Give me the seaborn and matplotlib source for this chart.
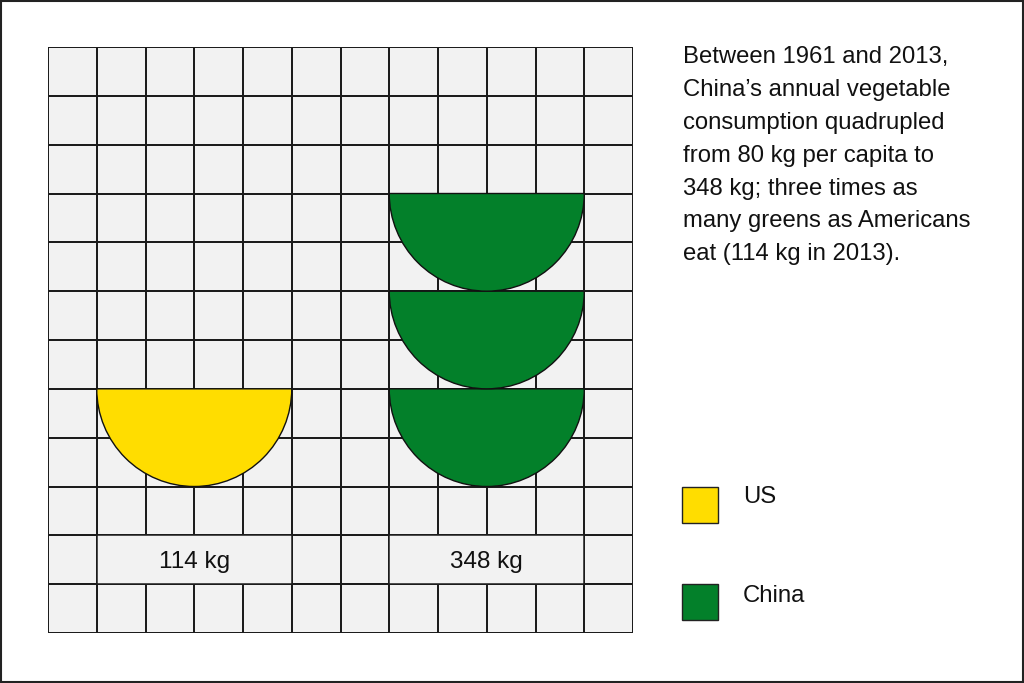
import numpy as np
import matplotlib
matplotlib.use("Agg")
import matplotlib.pyplot as plt
from matplotlib.colors import ListedColormap
from matplotlib.patches import Rectangle, Wedge
import seaborn as sns

# data
countries = ["US", "China"]
consumption_kg = [114, 348]
bowls = [1, 3]   # one bowl ~ 114 kg
bowl_colors = ["#FFDD00", "#03802A"]

note = ("Between 1961 and 2013,\n"
        "China\u2019s annual vegetable\n"
        "consumption quadrupled\n"
        "from 80 kg per capita to\n"
        "348 kg; three times as\n"
        "many greens as Americans\n"
        "eat (114 kg in 2013).")

sns.set_theme(style="white")
plt.rcParams['font.family'] = ['Liberation Sans', 'DejaVu Sans']

W, H = 1024, 683
fig = plt.figure(figsize=(W / 100, H / 100), dpi=100)
fig.patch.set_facecolor("white")

n = 12
grid_col = "#1c1c1c"
lw = 1.1
ax = fig.add_axes([48 / W, (H - 633) / H, 585 / W, 586 / H])
sns.heatmap(np.zeros((n, n)), cmap=ListedColormap(["#F2F2F2"]), cbar=False,
            linewidths=lw, linecolor=grid_col, xticklabels=False,
            yticklabels=False, ax=ax)

# bowls, stacked from row 7 upward
label_row = 10
for i, (name, kg, nb, c) in enumerate(zip(countries, consumption_kg, bowls, bowl_colors)):
    cx = 3 + 6 * i
    # merged label cell
    ax.add_patch(Rectangle((cx - 2, label_row), 4, 1, facecolor="#F2F2F2",
                           edgecolor=grid_col, lw=lw, zorder=3))
    ax.text(cx, label_row + 0.55, f"{kg} kg", ha="center", va="center",
            fontsize=17.5, color="#111111", zorder=4)
    for k in range(nb):
        cy = 7 - 2 * k
        ax.add_patch(Wedge((cx, cy), 2, 0, 180, facecolor=c,
                           edgecolor="#111111", lw=1.0, zorder=5))

# overlay in pixel coords for annotation and legend
ov = fig.add_axes([0, 0, 1, 1], facecolor="none")
ov.set_xlim(0, W)
ov.set_ylim(H, 0)
ov.axis("off")
ov.text(683, 46, note, ha="left", va="top", fontsize=17.2, linespacing=1.64,
        color="#111111")
for i, (name, c) in enumerate(zip(countries, bowl_colors)):
    y0 = 487 + 97 * i
    ov.add_patch(Rectangle((682, y0), 36, 36, facecolor=c,
                           edgecolor="#222222", lw=1.0))
    ov.text(743, y0 + 10 + 2 * i, name, ha="left", va="center", fontsize=17.2,
            color="#111111")

# outer frame
ov.add_patch(Rectangle((1, 1), W - 2, H - 2, fill=False, edgecolor="#222222",
                       lw=1.5))

fig.savefig("out.png", dpi=100)
